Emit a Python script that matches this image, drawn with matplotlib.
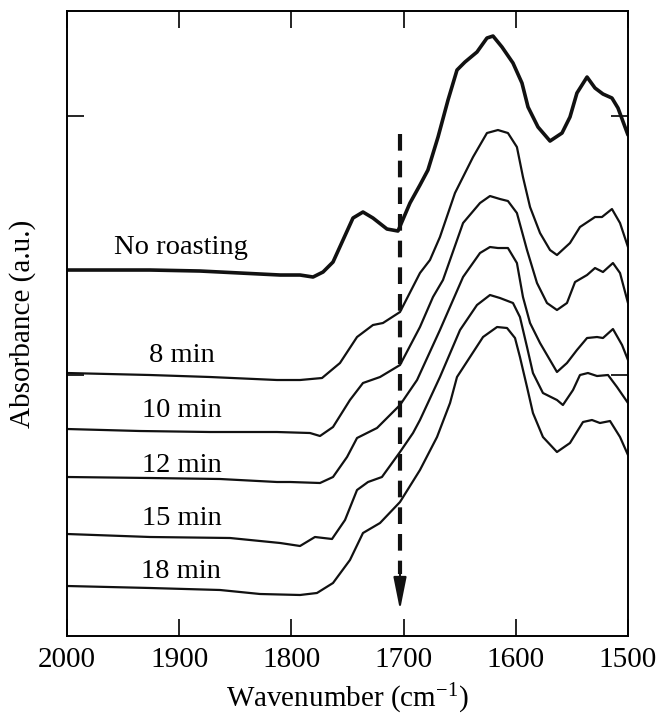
import matplotlib
matplotlib.use('Agg')
import matplotlib.pyplot as plt

plt.rcParams['font.family'] = ['Liberation Serif', 'DejaVu Serif']
plt.rcParams['mathtext.fontset'] = 'custom'
plt.rcParams['mathtext.rm'] = 'Liberation Serif'
plt.rcParams['mathtext.it'] = 'Liberation Serif:italic'

# spectra: wavenumber (cm-1) and stacked absorbance (a.u.)
wn_nr = [2000, 1926, 1881.5, 1845.8, 1810, 1792.3, 1780.7, 1771.8, 1762.9, 1754, 1745.1,
         1736.2, 1727.3, 1714.8, 1705, 1694.3, 1685.4, 1678.3, 1669.3, 1660.4, 1652.4, 1645.3,
         1634.6, 1625.7, 1620.3, 1612.3, 1602.5, 1594.5, 1589.1, 1580.2, 1569.5, 1558.8, 1551.7,
         1545.5, 1536.5, 1529.4, 1522.3, 1514.3, 1508.9, 1500]
ab_nr = [3.66, 3.66, 3.65, 3.63, 3.61, 3.61, 3.59, 3.64, 3.74, 3.96, 4.18,
         4.24, 4.18, 4.07, 4.05, 4.33, 4.51, 4.66, 4.99, 5.36, 5.66, 5.74,
         5.84, 5.98, 6.00, 5.89, 5.73, 5.53, 5.29, 5.09, 4.95, 5.03, 5.19,
         5.43, 5.59, 5.48, 5.42, 5.38, 5.28, 5.01]

wn_8 = [2000, 1926, 1872.5, 1812.8, 1792.3, 1772.7, 1756.7, 1741.5, 1727.3, 1718.4, 1703.2,
        1685.4, 1676.5, 1667.6, 1654.2, 1638.1, 1625.7, 1615.9, 1607, 1599, 1593.6, 1587.3,
        1578.4, 1569.5, 1563.3, 1551.7, 1542.8, 1529.4, 1523.2, 1514.3, 1507.1, 1500]
ab_8 = [2.63, 2.61, 2.59, 2.56, 2.56, 2.58, 2.73, 2.99, 3.11, 3.13, 3.24,
        3.63, 3.76, 3.99, 4.43, 4.79, 5.03, 5.06, 5.03, 4.89, 4.59, 4.29,
        4.03, 3.86, 3.81, 3.93, 4.09, 4.19, 4.19, 4.27, 4.13, 3.89]

wn_10 = [2000, 1935, 1872.5, 1812.8, 1783.4, 1774.5, 1762.9, 1747.8, 1736.2, 1721, 1703.2,
         1685.4, 1673.8, 1664.9, 1647, 1631.9, 1623, 1614.1, 1607, 1599, 1590, 1581.1,
         1572.2, 1563.3, 1554.4, 1547.2, 1536.5, 1529.4, 1522.3, 1513.4, 1507.1, 1500]
ab_10 = [2.07, 2.05, 2.04, 2.04, 2.03, 2.00, 2.09, 2.36, 2.53, 2.59, 2.71,
         3.09, 3.39, 3.56, 4.13, 4.33, 4.40, 4.37, 4.35, 4.23, 3.86, 3.53,
         3.33, 3.26, 3.33, 3.54, 3.61, 3.68, 3.64, 3.73, 3.63, 3.33]

wn_12 = [2000, 1926, 1863.6, 1812.8, 1801, 1774.5, 1762.9, 1750.4, 1741.5, 1727.3, 1723.7,
         1703.2, 1688, 1667.6, 1647, 1631.9, 1623, 1615.9, 1607, 1599, 1593.6, 1587.3,
         1578.4, 1563.3, 1554.4, 1545.5, 1536.5, 1527.6, 1522.3, 1513.4, 1505.3, 1500]
ab_12 = [1.59, 1.58, 1.57, 1.54, 1.54, 1.53, 1.59, 1.79, 1.98, 2.06, 2.08,
         2.31, 2.56, 3.06, 3.59, 3.83, 3.89, 3.88, 3.88, 3.73, 3.39, 3.13,
         2.93, 2.64, 2.73, 2.86, 2.98, 2.99, 2.98, 3.07, 2.91, 2.76]

wn_15 = [2000, 1926, 1854.7, 1810, 1792.3, 1779, 1763.8, 1752.2, 1741.5, 1731.7, 1719.3,
         1703.2, 1691.6, 1685.4, 1667.6, 1649.7, 1634.6, 1623, 1614.1, 1602.5, 1596.3, 1590,
         1584.7, 1575.8, 1563.3, 1558, 1549, 1542.8, 1535.7, 1527.6, 1517.8, 1509.8, 1500]
ab_15 = [1.02, 0.99, 0.98, 0.93, 0.90, 0.99, 0.97, 1.16, 1.46, 1.54, 1.59,
         1.84, 2.03, 2.16, 2.59, 3.06, 3.31, 3.41, 3.38, 3.33, 3.19, 2.89,
         2.63, 2.43, 2.36, 2.31, 2.46, 2.61, 2.63, 2.60, 2.61, 2.49, 2.33]

wn_18 = [2000, 1926, 1863.6, 1828, 1792.3, 1777.2, 1762.9, 1747.8, 1736.2, 1721, 1703.2,
         1685.4, 1670.2, 1658.6, 1652.4, 1640.8, 1629.2, 1616.7, 1607.8, 1600.7, 1596.3, 1590,
         1584.7, 1575.8, 1563.3, 1551.7, 1540.1, 1532.1, 1525, 1516, 1507.1, 1500]
ab_18 = [0.50, 0.48, 0.46, 0.42, 0.41, 0.43, 0.53, 0.76, 1.03, 1.13, 1.34,
         1.66, 1.99, 2.33, 2.59, 2.79, 2.99, 3.09, 3.08, 2.98, 2.79, 2.49,
         2.23, 1.99, 1.84, 1.93, 2.14, 2.16, 2.13, 2.15, 1.99, 1.81]

labels = ['No roasting', '8 min', '10 min', '12 min', '15 min', '18 min']
label_y = [3.89, 2.81, 2.26, 1.71, 1.18, 0.64]
label_x = 1898

series = [(wn_nr, ab_nr), (wn_8, ab_8), (wn_10, ab_10), (wn_12, ab_12), (wn_15, ab_15), (wn_18, ab_18)]
widths = [2.6, 1.6, 1.6, 1.6, 1.6, 1.6]

fig = plt.figure(figsize=(6.6, 7.21), dpi=100)
ax = fig.add_axes([0.1015, 0.1179, 0.85, 0.8668])

for (x, y), lw in zip(series, widths):
    ax.plot(x, y, color='#111111', lw=lw, solid_joinstyle='round', solid_capstyle='round')

for lab, ly in zip(labels, label_y):
    ax.text(label_x, ly, lab, ha='center', va='center', fontsize=20.5)

# dashed arrow at ~1703 cm-1
ax.plot([1703.2, 1703.2], [5.02, 0.62], color='#111111', lw=3, linestyle=(0, (4, 2.4)))
ax.annotate('', xy=(1703.2, 0.26), xytext=(1703.2, 0.62),
            arrowprops=dict(arrowstyle='-|>,head_length=2.0,head_width=0.4',
                            color='#111111', lw=1.5, shrinkA=0, shrinkB=0))

ax.set_xlim(2000, 1500)
ax.set_ylim(0, 6.25)
ax.set_xticks([2000, 1900, 1800, 1700, 1600, 1500])
ax.set_yticks([2.61, 5.20])
ax.set_yticklabels([])
ax.tick_params(direction='in', length=12, width=1.2, top=True, right=True, labelsize=21, pad=8)
for sp in ax.spines.values():
    sp.set_linewidth(1.4)

ax.set_xlabel('Wavenumber (cm$^{-1}$)', fontsize=21, labelpad=6)
ax.set_ylabel('Absorbance (a.u.)', fontsize=21, labelpad=14)

fig.savefig('out.png', dpi=100)
